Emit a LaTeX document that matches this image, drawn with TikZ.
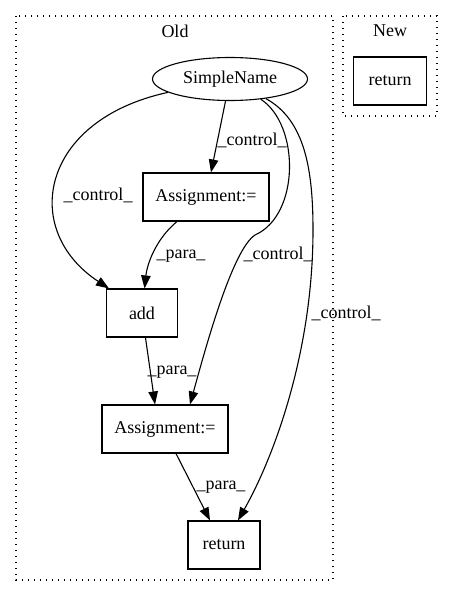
\documentclass[tikz,border=0pt]{standalone}
\usepackage{fontspec}
\setmainfont{Liberation Serif}
\usetikzlibrary{shapes.geometric,arrows.meta}

\tikzset{
  txt/.style={font=\fontsize{18}{20}\selectfont},
  box/.style={txt, draw, rectangle, minimum height=48pt, inner sep=0pt, line width=1.1pt},
  oval/.style={txt, draw, ellipse, minimum width=155pt, minimum height=43pt, inner sep=0pt, line width=1.1pt},
  edge/.style={-{Triangle[length=13pt,width=9.5pt]}, line width=1.1pt},
  lbl/.style={txt, inner sep=0pt},
  cluster/.style={dash pattern=on 1.3pt off 4.7pt, line width=1.3pt}
}

\begin{document}
\begin{tikzpicture}[x=1pt,y=-1pt]
\useasboundingbox (0,0) rectangle (453,596);
% clusters
\draw[cluster] (16,16) rectangle (333,580);
\draw[cluster] (343,16) rectangle (437,116);
\node[lbl] (old) at (175,31) {Old};
\node[lbl] (new) at (390,31) {New};
% nodes
\node[oval] (sn) at (230,79) {SimpleName};
\node[box, minimum width=126pt] (asg1) at (206,197) {Assignment:=};
\node[box, minimum width=71pt] (add) at (142,313) {add};
\node[box, minimum width=126pt] (asg2) at (165,429) {Assignment:=};
\node[box, minimum width=72pt] (ret) at (224,545) {return};
\node[box, minimum width=73pt] (newret) at (390,81) {return};
% edges
\draw[edge] (sn) -- (asg1);
\draw[edge] (sn) .. controls (40,120) and (20,230) .. ([xshift=3pt]add.north west);
\draw[edge] (asg1) .. controls (155,240) and (147,265) .. (add);
\draw[edge] (sn) .. controls (300,125) and (300,215) .. (255,235)
  .. controls (232,250) and (205,350) .. ([xshift=25pt]asg2.north);
\draw[edge] (sn) .. controls (305,120) and (313,170) .. (313,230)
  .. controls (313,350) and (275,455) .. ([xshift=14pt]ret.north);
\draw[edge] (add) -- ([xshift=-10pt]asg2.north);
\draw[edge] ([xshift=11pt]asg2.south) -- ([xshift=-14pt]ret.north);
% labels
\node[lbl] (l1) at (252,140) {\_control\_};
\node[lbl] (l2) at (98,195) {\_control\_};
\node[lbl] (l3) at (181,256) {\_para\_};
\node[lbl] (l4) at (278,254) {\_control\_};
\node[lbl] (l5) at (346,313) {\_control\_};
\node[lbl] (l6) at (172,372) {\_para\_};
\node[lbl] (l7) at (221,487) {\_para\_};
\end{tikzpicture}
\end{document}
